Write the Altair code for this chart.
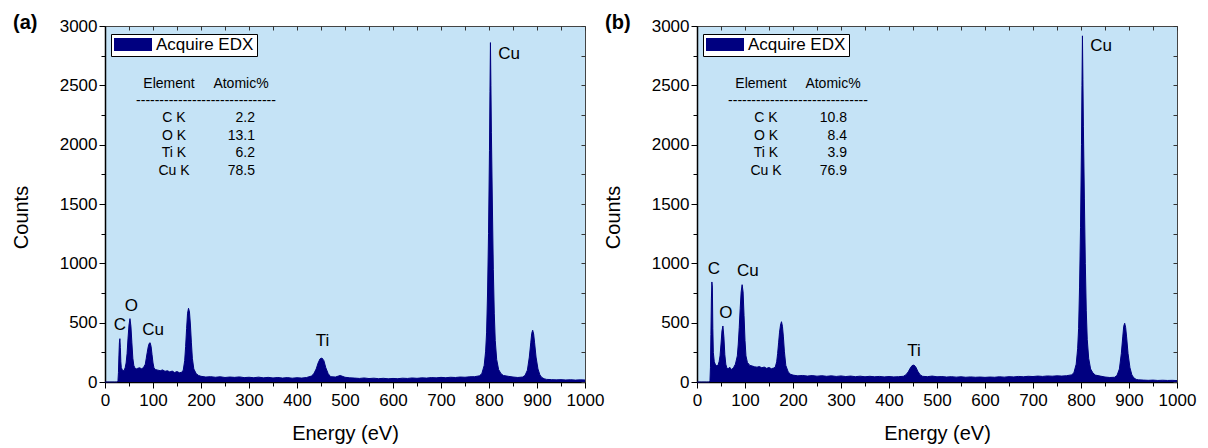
import altair as alt
import pandas as pd

# ---------------- data ----------------
energy_ev = [
    0, 10, 20, 26,
    27, 28, 29, 30, 31, 32, 33, 34, 36, 38, 40, 42, 44, 46, 48, 50, 52, 54, 56, 58, 60, 62,
    65, 68, 72, 76, 80, 84, 86, 88, 90, 92, 94, 96, 98, 100, 102,
    105, 110, 115, 120, 125, 130, 135, 140, 145, 150, 155, 160,
    163, 166, 168, 170, 172, 174, 176, 178, 180, 182, 185, 190, 195,
    200, 210, 220, 230, 240, 250, 260, 270, 280, 290, 300, 310, 320, 330, 340, 350, 360, 370, 380, 390, 400, 410, 420,
    430, 435, 440, 444, 448, 452, 456, 460, 465, 470,
    480, 490, 500, 510, 520, 530, 540, 550, 560, 570, 580, 590, 600, 610, 620, 630, 640, 650, 660, 670, 680, 690, 700,
    710, 720, 730, 740, 750, 760, 770, 780,
    785, 790, 793, 795, 797, 799, 801, 802, 803, 804, 805, 807, 809, 811, 813, 816, 820, 825, 830,
    840, 850, 860, 870,
    875, 880, 884, 887, 889, 891, 893, 895, 898, 902, 906, 910, 915,
    920, 930, 940, 950, 960, 970, 980, 990, 1000,
]

counts_a = [
    0, 0, 0, 0,
    10, 80, 220, 330, 365, 290, 170, 120, 105, 95, 100, 120, 160, 240, 370, 480, 534, 470, 330, 200, 140, 120,
    110, 115, 120, 112, 120, 150, 200, 250, 295, 325, 331, 300, 230, 160, 120,
    105, 100, 95, 102, 90, 95, 85, 92, 80, 88, 78, 82,
    100, 180, 300, 450, 580, 621, 590, 480, 330, 200, 110, 70, 55,
    48, 42, 45, 40, 44, 38, 42, 39, 43, 37, 40, 36, 41, 35, 39, 34, 38, 33, 37, 32, 36, 33, 38,
    50, 70, 110, 160, 195, 202, 180, 120, 70, 45,
    42, 55, 40, 35, 33, 30, 34, 29, 32, 28, 31, 27, 30, 28, 32, 30, 34, 31, 35, 33, 37, 35, 39,
    36, 40, 38, 42, 40, 44, 45, 52,
    70, 140, 260, 420, 750, 1250, 1950, 2450, 2860, 2500, 2100, 1500, 950, 580, 350, 190, 105, 70, 55,
    48, 42, 38, 42,
    55, 100, 210, 330, 410, 436, 405, 330, 210, 110, 60, 38, 27,
    22, 20, 18, 20, 17, 19, 16, 18, 17,
]

counts_b = [
    0, 0, 0, 0,
    10, 120, 400, 700, 843, 800, 450, 250, 170, 150, 140, 135, 145, 170, 220, 320, 430, 472, 380, 230, 150, 120,
    110, 125, 105, 120, 150, 220, 320, 460, 620, 760, 820, 760, 560, 350, 220,
    165, 140, 135, 128, 125, 130, 120, 126, 115, 122, 112, 118,
    125, 170, 240, 330, 420, 480, 508, 470, 380, 260, 140, 85, 65,
    58, 52, 55, 50, 54, 49, 53, 48, 52, 47, 51, 46, 50, 45, 49, 44, 48, 44, 47, 43, 46, 43, 45,
    48, 60, 85, 115, 138, 143, 125, 90, 60, 48,
    45, 50, 44, 46, 42, 45, 41, 44, 40, 43, 40, 42, 39, 42, 40, 44, 41, 45, 43, 47, 44, 48, 46,
    50, 47, 51, 49, 52, 50, 53, 60,
    75, 150, 280, 450, 800, 1300, 2000, 2500, 2917, 2550, 2150, 1550, 1000, 600, 360, 200, 110, 75, 58,
    50, 42, 38, 40,
    55, 110, 240, 380, 470, 495, 460, 380, 240, 120, 60, 35, 22,
    18, 16, 14, 16, 13, 15, 13, 14, 12,
]

series_name = "Acquire EDX"

peak_labels = ["C", "O", "Cu", "Ti", "Cu"]
peak_energy_a = [31, 55, 100, 453, 842]
peak_counts_a = [483, 640, 440, 345, 2765]
peak_energy_b = [35, 60, 106, 452, 842]
peak_counts_b = [953, 582, 936, 261, 2832]

table_header = ["Element", "Atomic%"]
elements = ["C K", "O K", "Ti K", "Cu K"]
atomic_a = ["2.2", "13.1", "6.2", "78.5"]
atomic_b = ["10.8", "8.4", "3.9", "76.9"]

panel_tags = ["(a)", "(b)"]

# ---------------- styling ----------------
NAVY = "#000080"
FONT = "Liberation Sans"
W, H = 480, 356

x_ticks = [0, 50, 100, 150, 200, 250, 300, 350, 400, 450, 500, 550, 600, 650, 700, 750, 800, 850, 900, 950, 1000]
y_ticks = [0, 250, 500, 750, 1000, 1250, 1500, 1750, 2000, 2250, 2500, 2750, 3000]


def panel(counts, pk_e, pk_c, atomic, tag):
    df = pd.DataFrame({"energy": energy_ev, "counts": counts, "series": series_name})
    xs = alt.Scale(domain=[0, 1000], nice=False, zero=False)
    ys = alt.Scale(domain=[0, 3000], nice=False)

    x_main = alt.X(
        "energy:Q", scale=xs, title="Energy (eV)",
        axis=alt.Axis(
            values=x_ticks, format="d", labelFlush=False, labelOverlap=False,
            labelExpr="datum.value % 100 === 0 ? datum.label : ''",
            tickSize={"condition": {"test": "datum.value % 100 === 0", "value": 6}, "value": 4},
            labelPadding=4, titleY=51, titleX=W / 2, titleBaseline="middle", titleAlign="center",
        ),
    )
    y_main = alt.Y(
        "counts:Q", scale=ys, title="Counts",
        axis=alt.Axis(
            values=y_ticks, format="d", labelFlush=False, labelOverlap=False,
            labelExpr="datum.value % 500 === 0 ? datum.label : ''",
            tickSize={"condition": {"test": "datum.value % 500 === 0", "value": 6}, "value": 4},
            labelPadding=2, titleX=-84, titleY=191, titleBaseline="middle", titleAlign="center",
        ),
    )

    area = alt.Chart(df).mark_area(interpolate="linear", opacity=1).encode(
        x=x_main, y=y_main,
        color=alt.Color(
            "series:N", scale=alt.Scale(range=[NAVY]),
            legend=alt.Legend(
                title=None, orient="none", legendX=6, legendY=8,
                fillColor="white", strokeColor="black", padding=3,
                symbolType="M-1,-0.34H1V0.34H-1Z", symbolSize=1444, symbolStrokeWidth=0,
                symbolOpacity=1, clipHeight=15, labelFontSize=17, labelFont=FONT,
                labelColor="black", labelOffset=4,
            ),
        ),
    )
    line = alt.Chart(df).mark_line(color=NAVY, strokeWidth=1).encode(
        x=alt.X("energy:Q", scale=xs, axis=None),
        y=alt.Y("counts:Q", scale=ys, axis=None),
    )
    ghost = alt.Chart(df).mark_line(opacity=0).encode(
        x=alt.X("energy:Q", scale=xs, axis=alt.Axis(
            orient="top", offset=-4, domain=False, labels=False, values=x_ticks,
            tickSize=4, title=None, tickColor="#333")),
        y=alt.Y("counts:Q", scale=ys, axis=alt.Axis(
            orient="right", offset=-4, domain=False, labels=False, values=y_ticks,
            tickSize=4, title=None, tickColor="#333")),
    )

    lab_df = pd.DataFrame({"energy": pk_e, "counts": pk_c, "label": peak_labels})
    peaks = alt.Chart(lab_df).mark_text(fontSize=17, font=FONT, color="black",
                                        align="center", baseline="middle").encode(
        x=alt.X("energy:Q", scale=xs, axis=None),
        y=alt.Y("counts:Q", scale=ys, axis=None),
        text="label:N",
    )

    one = alt.Data(values=[{"k": 0}])

    def txt(value, x, y, align="center", baseline="middle", size=14, weight="normal", lh=None):
        kw = dict(fontSize=size, font=FONT, color="black", align=align, baseline=baseline,
                  fontWeight=weight)
        if lh is not None:
            kw["lineHeight"] = lh
        return alt.Chart(one).mark_text(**kw).encode(
            x=alt.value(x), y=alt.value(y), text=alt.value(value))

    texts = [
        txt(table_header[0], 64, 58),
        txt(table_header[1], 136, 58),
        txt("-" * 30, 101, 75),
        txt(elements, 69, 85, baseline="top", lh=17.7),
        txt(atomic, 150, 85, align="right", baseline="top", lh=17.7),
        txt(tag, -92, -3, align="left", size=20, weight="bold"),
    ]

    return alt.layer(area, line, ghost, peaks, *texts).resolve_axis(
        x="independent", y="independent"
    ).properties(width=W, height=H)


pa = panel(counts_a, peak_energy_a, peak_counts_a, atomic_a, panel_tags[0])
pb = panel(counts_b, peak_energy_b, peak_counts_b, atomic_b, panel_tags[1])

chart = alt.hconcat(pa, pb, spacing=112, bounds="flush").resolve_scale(
    color="independent"
).resolve_legend(color="independent").properties(
    padding={"left": 10, "top": 12, "right": 5, "bottom": 5},
    background="white",
).configure_view(
    fill="#C5E3F6", stroke="#444", strokeWidth=1,
).configure_axis(
    domainColor="black", domainWidth=1.5, tickColor="black", tickWidth=1,
    labelFont=FONT, labelFontSize=17, labelColor="black",
    titleFont=FONT, titleFontSize=20, titleFontWeight="normal", titleColor="black",
    grid=False,
).configure_text(font=FONT)

chart.save("out.html", embed_options={"renderer": "svg", "actions": False})
